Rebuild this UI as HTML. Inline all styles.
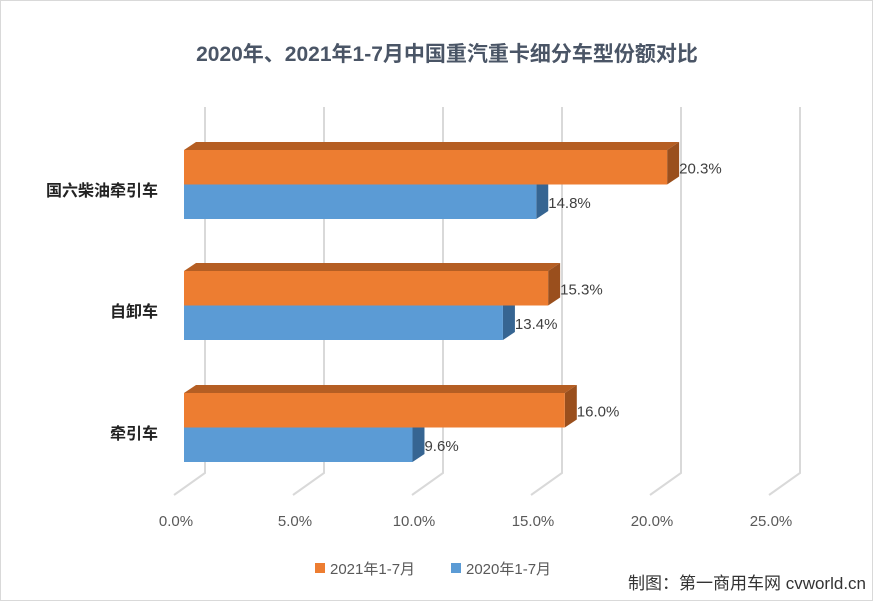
<!DOCTYPE html>
<html><head><meta charset="utf-8"><style>
body{margin:0;background:#fff;font-family:"Liberation Sans","Noto Sans CJK SC",sans-serif}
#c{position:relative;width:873px;height:601px}
</style></head><body>
<div id="c">
<svg id="s" width="873" height="601" xmlns="http://www.w3.org/2000/svg" style="position:absolute;left:0;top:0">
<rect x="0.5" y="0.5" width="872" height="600" fill="#fff" stroke="#d9d9d9"/>
<text x="447" y="61" text-anchor="middle" font-size="21" font-weight="bold" fill="#4a5566" font-family="Liberation Sans, Noto Sans CJK SC, sans-serif">2020年、2021年1-7月中国重汽重卡细分车型份额对比</text>
<g id="grid"></g><g id="bars"></g><g id="labels"></g>
<rect x="315" y="563" width="10" height="10" fill="#ED7D31"/>
<text x="330" y="574" font-size="15" fill="#595959">2021年1-7月</text>
<rect x="451" y="563" width="10" height="10" fill="#5B9BD5"/>
<text x="466" y="574" font-size="15" fill="#595959">2020年1-7月</text>
<text x="866" y="589" text-anchor="end" font-size="17" fill="#333">制图：第一商用车网 cvworld.cn</text>
</svg>
</div>
<script>
const categories=["国六柴油牵引车","自卸车","牵引车"];
const series2021=[20.3,15.3,16.0];
const series2020=[14.8,13.4,9.6];
const ticks=[0,5,10,15,20,25];
const tickLabels=["0.0%","5.0%","10.0%","15.0%","20.0%","25.0%"];
const NS="http://www.w3.org/2000/svg";
const X0=184,K=23.8,DX=12,DY=8;
const x=v=>X0+K*v;
function mk(t,a,p){const e=document.createElementNS(NS,t);for(const k in a)e.setAttribute(k,a[k]);p.appendChild(e);return e;}
const g=document.getElementById('grid'),b=document.getElementById('bars'),l=document.getElementById('labels');
ticks.forEach((t,i)=>{
 const bx=x(t)+21;
 const ln=mk('polyline',{points:`${bx},107 ${bx},473 ${bx-31},495`,fill:'none',stroke:'#d9d9d9','stroke-width':2},g);
 
 
 const tx=mk('text',{x:x(t)-8,y:526,'text-anchor':'middle','font-size':15,fill:'#595959'},l);
 tx.textContent=tickLabels[i];
 
 
});
function bar(v,y,h,front,top,side,name){
 const x1=x(v);
 const gg=mk('g',{},b);
 
 
 mk('polygon',{points:`${X0},${y} ${X0+DX},${y-DY} ${x1+DX},${y-DY} ${x1},${y}`,fill:top},gg);
 mk('polygon',{points:`${x1},${y} ${x1+DX},${y-DY} ${x1+DX},${y+h-DY} ${x1},${y+h}`,fill:side},gg);
 mk('rect',{x:X0,y:y,width:x1-X0,height:h,fill:front},gg);
 const t=mk('text',{x:x1+DX,y:y+h/2+6,'font-size':15,fill:'#404040'},l);
 t.textContent=v.toFixed(1)+'%';
 
 
}
const tops=[150,271,393];
categories.forEach((c,i)=>{
 const y=tops[i];
 bar(series2020[i],y+34.5,34.5,'#5B9BD5','#4a82b8','#366592','bar-2020-'+i);
 bar(series2021[i],y,34.5,'#ED7D31','#B55E23','#9A4F1D','bar-2021-'+i);
 const t=mk('text',{x:158,y:y+46,'text-anchor':'end','font-size':16,'font-weight':'bold',fill:'#222'},l);
 t.textContent=c;
 
 
});
</script>
</body></html>
